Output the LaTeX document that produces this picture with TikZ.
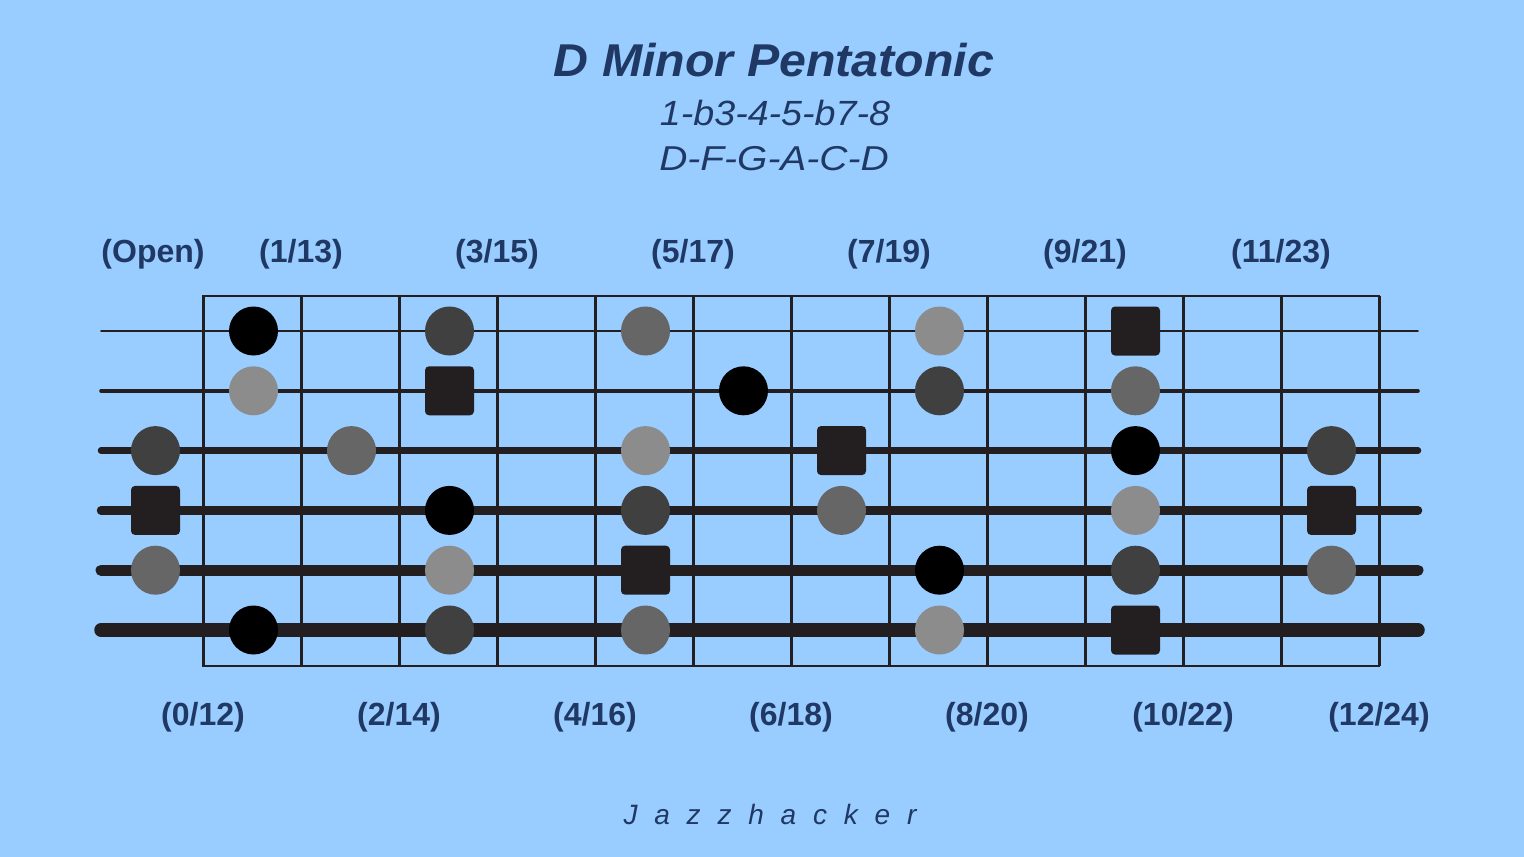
\documentclass[tikz,border=0pt]{standalone}
\usepackage{fontspec}
\setmainfont{Liberation Sans}
\newfontfamily\brandfont[LetterSpace=60]{Liberation Sans}
\definecolor{bgblue}{HTML}{99CCFF}
\definecolor{txtblue}{HTML}{1F3864}
\definecolor{wire}{HTML}{231F20}
\definecolor{greydark}{HTML}{404040}
\definecolor{greymid}{HTML}{666666}
\definecolor{greylight}{HTML}{8C8C8C}
\tikzset{
  dot/.style={circle, minimum size=49pt, inner sep=0pt},
  dotblack/.style={dot, fill=black},
  dotdark/.style={dot, fill=greydark},
  dotmid/.style={dot, fill=greymid},
  dotlight/.style={dot, fill=greylight},
  rootbox/.style={rectangle, rounded corners=4pt, minimum size=49pt, inner sep=0pt, fill=wire},
  fretlabel/.style={anchor=base, text=txtblue, font=\fontsize{32}{36}\selectfont\bfseries},
  heading/.style={anchor=base, text=txtblue},
}
\begin{document}
\begin{tikzpicture}[x=1pt, y=-1pt]
    % Background
    \fill[bgblue] (0,0) rectangle (1524,857);
    \useasboundingbox (0,0) rectangle (1524,857);

    % Title and formula
    \node[heading, font=\fontsize{46}{50}\selectfont\bfseries\itshape] (title) at (774,76) {\scalebox{1.05}[1]{D Minor Pentatonic}};
    \node[heading, font=\fontsize{35}{38}\selectfont\itshape] (formula) at (775,125) {\scalebox{1.075}[1]{1-b3-4-5-b7-8}};
    \node[heading, font=\fontsize{34.5}{38}\selectfont\itshape] (notes) at (774,170) {\scalebox{1.13}[1]{D-F-G-A-C-D}};

    % Fret numbers above
    \node[fretlabel] (top0) at (153,262) {(Open)};
    \foreach \f/\g in {1/13, 3/15, 5/17, 7/19, 9/21, 11/23}
        \node[fretlabel] (top\f) at ({203+98*\f},262) {(\f/\g)};

    % Fret numbers below
    \foreach \f/\g in {0/12, 2/14, 4/16, 6/18, 8/20, 10/22, 12/24}
        \node[fretlabel] (bot\f) at ({203+98*\f},725) {(\f/\g)};

    % Fretboard
    \draw[wire, line width=1.5pt] (203,296) rectangle (1379,666);
    \foreach \f in {0,...,12}
        \draw[wire, line width=3pt] ({203+98*\f},296) -- ({203+98*\f},666);

    % Strings
    \foreach \s/\w in {1/1.8, 2/3.6, 3/6.5, 4/8.5, 5/11, 6/13.5}
        \draw[wire, line width=\w pt, line cap=round] (101,{331+59.8*(\s-1)}) -- (1418,{331+59.8*(\s-1)});

    % Scale tones
    \foreach \s/\f/\kind in {1/1/dotblack, 1/3/dotdark, 1/5/dotmid, 1/8/dotlight, 1/10/rootbox,
                             2/1/dotlight, 2/3/rootbox, 2/6/dotblack, 2/8/dotdark, 2/10/dotmid,
                             3/0/dotdark, 3/2/dotmid, 3/5/dotlight, 3/7/rootbox, 3/10/dotblack, 3/12/dotdark,
                             4/0/rootbox, 4/3/dotblack, 4/5/dotdark, 4/7/dotmid, 4/10/dotlight, 4/12/rootbox,
                             5/0/dotmid, 5/3/dotlight, 5/5/rootbox, 5/8/dotblack, 5/10/dotdark, 5/12/dotmid,
                             6/1/dotblack, 6/3/dotdark, 6/5/dotmid, 6/8/dotlight, 6/10/rootbox}
        \node[\kind] (n\s-\f) at ({204.5+98*(\f-0.5)},{331+59.8*(\s-1)}) {};

    % Signature
    \node[heading, font=\fontsize{28}{32}\selectfont\brandfont\itshape] (brand) at (770,824) {Jazzhacker};
\end{tikzpicture}
\end{document}
